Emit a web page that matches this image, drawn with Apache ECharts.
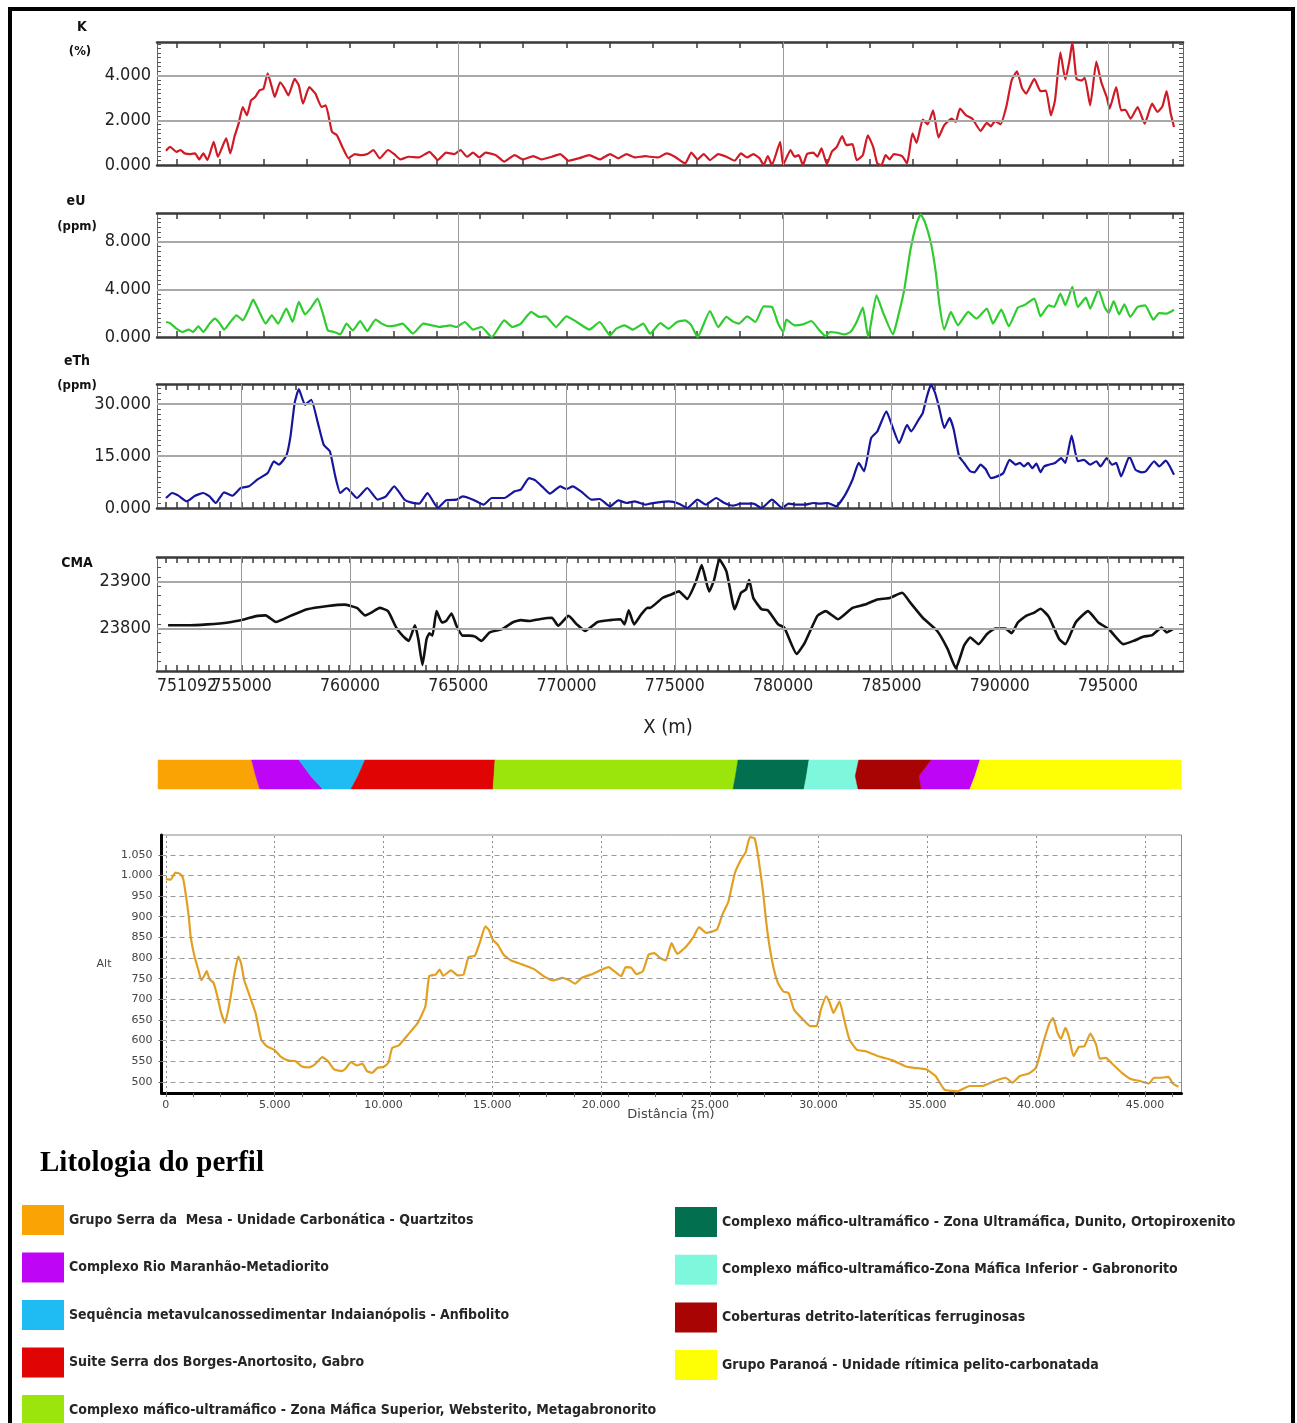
<!DOCTYPE html>
<html><head><meta charset="utf-8">
<script src="https://cdn.jsdelivr.net/npm/echarts@6/dist/echarts.min.js"></script>
<style>html,body{margin:0;padding:0;background:#fff}#c{width:1297px;height:1423px}</style>
</head><body><div id="c"></div>
<script>
// ---------------- DATA ----------------
const X_MIN = 751092, X_MAX = 798462;
const xLabelValues = [755000,760000,765000,770000,775000,780000,785000,790000,795000];
const xMinLabel = [751092];
const xGridCoarse = [765000,780000,795000];
const xGridFine = [755000,760000,765000,770000,775000,780000,785000,790000,795000];

const kLabels = [0,2,4];
const uLabels = [0,4,8];
const thLabels = [0,15,30];
const cmaLabels = [23800,23900];

const kData = [[751507,0.64],[751699,0.81],[751986,0.59],[752178,0.67],[752370,0.52],[752657,0.49],[752849,0.52],[753040,0.25],[753232,0.52],[753423,0.22],[753710,1.04],[753902,0.37],[754285,1.19],[754477,0.52],[754668,1.26],[754860,1.85],[755052,2.59],[755243,2.22],[755435,2.89],[755627,3.04],[755818,3.33],[756010,3.41],[756201,4.1],[756393,3.48],[756527,3.04],[756776,3.7],[756968,3.45],[757160,3.11],[757447,3.85],[757639,3.56],[757830,2.74],[758118,3.48],[758405,3.19],[758692,2.59],[758884,2.67],[759171,1.48],[759401,1.33],[759650,0.81],[759938,0.3],[760225,0.49],[760512,0.44],[760800,0.49],[761087,0.67],[761374,0.3],[761757,0.67],[762045,0.49],[762332,0.25],[762716,0.37],[763195,0.34],[763674,0.59],[764057,0.22],[764440,0.55],[764823,0.49],[765111,0.67],[765398,0.37],[765686,0.55],[765973,0.34],[766261,0.55],[766740,0.44],[767123,0.15],[767602,0.44],[767985,0.25],[768464,0.4],[768847,0.25],[769326,0.37],[769709,0.49],[770092,0.19],[770571,0.3],[771050,0.44],[771529,0.25],[772008,0.49],[772391,0.3],[772774,0.49],[773157,0.34],[773636,0.4],
[773854,0.37],[774236,0.34],[774617,0.52],[774999,0.37],[775476,0.07],[775762,0.55],[776048,0.25],[776334,0.49],[776621,0.22],[777002,0.49],[777384,0.37],[777765,0.19],[778052,0.52],[778338,0.34],[778624,0.49],[778910,0.3],[779101,0],[779292,0.4],[779483,0],[779864,1.04],[779998,0],[780341,0.67],[780532,0.37],[780723,0.44],[780914,0],[781105,0.49],[781391,0.55],[781582,0.37],[781772,0.74],[782020,0.04],[782249,0.59],[782478,0.81],[782726,1.29],[782917,0.89],[783203,0.93],[783394,0.22],[783680,0.44],[783909,1.33],[784157,0.81],[784348,0.07],[784539,0],[784730,0.44],[784920,0.25],[785111,0.49],[785493,0.4],[785722,0.07],[785970,1.41],[786161,0.99],[786447,2.03],[786676,1.82],[786924,2.44],[787172,1.23],[787439,1.78],[787782,2.07],[787973,1.93],[788164,2.52],[788450,2.22],[788736,2.07],[789118,1.53],[789404,1.88],[789595,1.73],[789786,1.97],[790034,1.82],[790301,2.59],[790549,3.78],[790797,4.19],[791026,3.45],[791217,3.19],[791598,3.85],[791885,3.3],[792133,3.33],[792362,2.22],[792552,2.89],[792800,5.04],[793029,3.82],[793220,4.67],[793354,5.5],[793545,3.85],[793793,3.78],[793927,3.9],[794175,2.67],[794461,4.62],[794690,3.7],[794938,3.04],[795072,2.52],[795377,3.48],[795605,2.44],[795796,2.47],[796044,2.07],[796368,2.59],[796693,1.85],[797036,2.74],[797284,2.37],[797513,2.62],[797704,3.3],[797895,2.3],[798047,1.7]];

const uData = [[751507,1.26],[751699,1.17],[751986,0.7],[752272,0.42],[752561,0.62],[752752,0.42],[753002,0.9],[753232,0.42],[753519,1.12],[753768,1.54],[753998,1.12],[754189,0.62],[754477,1.26],[754764,1.82],[755052,1.4],[755339,2.38],[755531,3.13],[755818,2.1],[756106,1.12],[756393,1.82],[756681,1.12],[757064,2.38],[757351,1.26],[757639,2.94],[757926,1.9],[758176,2.38],[758501,3.22],[758788,1.73],[758980,0.56],[759267,0.42],[759554,0.22],[759842,1.12],[760129,0.56],[760474,1.34],[760800,0.5],[761183,1.45],[761470,1.12],[761757,0.9],[762140,0.98],[762428,1.12],[762907,0.28],[763386,1.12],[763769,0.98],[764152,0.84],[764631,0.98],[764919,0.84],[765302,1.26],[765686,0.62],[766069,0.84],[766548,0],[767123,1.4],[767506,0.84],[767889,1.12],[768368,2.1],[768751,1.68],[769038,1.73],[769517,0.84],[769996,1.73],[770475,1.26],[771050,0.62],[771529,1.26],[772008,0.14],[772295,0.7],[772678,0.98],[773062,0.62],[773541,1.12],
[773854,0.28],[774331,1.17],[774713,0.7],[775094,1.26],[775476,1.4],[775762,0.98],[776048,0],[776621,2.18],[777002,0.84],[777384,1.68],[777670,1.31],[777956,1.12],[778338,1.73],[778719,1.26],[779101,2.57],[779483,2.52],[779769,1.12],[780003,0.42],[780150,1.45],[780532,0.98],[780914,1.06],[781296,1.34],[781677,0.56],[781963,0.06],[782154,0.42],[782536,0.34],[782822,0.22],[783108,0.42],[783394,1.26],[783680,2.46],[783927,0],[784310,3.5],[784634,1.96],[785073,0.22],[785302,1.68],[785588,3.92],[785874,7.27],[786161,9.51],[786352,10.29],[786543,9.65],[786829,7.83],[787057,5.31],[787210,2.8],[787439,0.62],[787744,2.1],[788069,0.98],[788546,2.1],[788927,1.54],[789404,2.38],[789690,1.12],[790072,2.29],[790416,0.9],[790835,2.46],[791121,2.66],[791598,3.22],[791885,1.73],[792266,2.66],[792514,2.52],[792800,3.64],[793029,2.66],[793354,4.2],[793602,2.52],[793981,3.3],[794175,2.38],[794557,3.97],[794842,2.52],[795033,2.01],[795262,3.02],[795510,1.9],[795758,2.74],[796026,1.68],[796368,2.52],[796712,2.66],[797093,1.45],[797360,2.01],[797704,1.96],[798047,2.29]];

const thData = [[751507,2.88],[751795,4.33],[752082,3.56],[752466,1.92],[752849,3.56],[753232,4.33],[753519,3.37],[753806,1.44],[754189,4.52],[754573,3.56],[754956,5.77],[755339,6.25],[755722,8.17],[756201,10.1],[756489,13.46],[756719,12.5],[757064,15.1],[757255,20.67],[757447,30.29],[757639,34.33],[757926,29.8],[758213,31.25],[758501,25],[758788,18.27],[759075,16.35],[759324,9.13],[759554,4.33],[759842,5.77],[760321,2.88],[760800,5.77],[761279,2.4],[761662,3.37],[762045,6.25],[762524,2.4],[762812,1.63],[763195,1.25],[763578,4.33],[764057,0],[764440,2.21],[764919,2.4],[765206,3.37],[765686,2.4],[766165,0.96],[766548,2.88],[767123,2.88],[767602,4.81],[767889,5.29],[768272,8.65],[768560,7.98],[768943,5.77],[769230,4.13],[769709,6.25],[769996,5.48],[770283,6.25],[770667,4.81],[771146,2.4],[771529,2.6],[772008,0.48],[772391,2.21],[772774,1.44],[773157,1.92],[773636,0.96],
[773854,1.25],[774236,1.63],[774713,1.92],[775190,1.25],[775571,0],[776048,2.4],[776430,0.96],[776907,2.88],[777289,1.44],[777670,0.67],[778052,1.25],[778624,1.25],[779006,0],[779483,2.4],[779960,0],[780246,1.25],[780627,0.96],[781010,0.96],[781391,1.44],[781677,1.25],[782058,1.44],[782440,0.48],[782822,3.37],[783203,8.17],[783490,13],[783738,10.6],[784062,20.2],[784348,22.1],[784768,27.9],[785016,24],[785359,18.75],[785722,24],[785912,22.1],[786256,25.5],[786447,27.4],[786638,32.2],[786829,35.6],[787019,33.2],[787210,28.8],[787439,23.1],[787687,26],[787878,22.6],[788126,14.9],[788355,13],[788641,10.6],[788832,10.3],[789118,12.5],[789347,11.25],[789595,8.65],[789882,9.13],[790168,10.1],[790454,13.9],[790740,12.5],[790931,13],[791121,12],[791312,13],[791503,11.5],[791694,12.8],[791885,10.3],[792045,12],[792266,12.5],[792552,13],[792838,14.4],[793029,13],[793320,20.9],[793602,13.5],[793888,13.9],[794175,12.5],[794461,13.5],[794651,12],[794938,14.4],[795186,12.5],[795377,13],[795605,9.13],[795987,14.9],[796273,11],[796560,10.3],[796750,10.6],[797131,13.5],[797360,12],[797665,13.65],[797856,12],[798047,9.6]];

const cmaData = [[751603,23807],[752465,23807],[753423,23809],[754381,23813],[755147,23820],[755722,23827],[756106,23828],[756585,23814],[757255,23827],[758022,23841],[758980,23848],[759746,23851],[760321,23844],[760704,23828],[760991,23834],[761374,23844],[761757,23837],[762140,23802],[762428,23785],[762715,23774],[763002,23807],[763156,23778],[763347,23723],[763539,23778],[763673,23790],[763807,23785],[763999,23837],[764248,23813],[764440,23816],[764689,23832],[764919,23806],[765206,23785],[765494,23785],[765781,23783],[766069,23774],[766452,23792],[767027,23799],[767506,23813],[767889,23818],[768272,23816],[768751,23820],[769326,23823],[769613,23806],[770092,23827],[770475,23809],[770858,23795],[771433,23814],[772008,23818],[772487,23820],[772678,23809],[772869,23839],[773119,23809],[773445,23830],[773732,23844],
[773854,23844],[774426,23865],[774808,23872],[775190,23879],[775571,23863],[775953,23897],[776239,23935],[776583,23879],[776811,23903],[777059,23947],[777384,23921],[777765,23841],[778052,23876],[778281,23883],[778433,23903],[778624,23865],[779006,23841],[779292,23839],[779769,23809],[780055,23802],[780628,23746],[781010,23771],[781582,23827],[781963,23837],[782536,23820],[783203,23844],[783776,23851],[784348,23862],[784920,23865],[785493,23876],[785874,23855],[786447,23823],[787115,23795],[787592,23757],[787974,23716],[788355,23764],[788641,23781],[789023,23767],[789404,23788],[789786,23800],[790263,23800],[790550,23790],[790836,23813],[791217,23827],[791598,23834],[791885,23842],[792266,23825],[792743,23778],[793029,23767],[793506,23813],[794078,23837],[794557,23813],[795033,23799],[795701,23767],[796178,23774],[796655,23783],[797036,23786],[797475,23802],[797704,23792],[797990,23799]];

// Altitude profile: [distance m, altitude m]
const altData = [[0,991],[228,990],[439,1007],[649,1004],[789,994],[930,949],[1052,901],[1140,852],[1315,804],[1491,772],[1631,746],[1754,756],[1877,768],[2017,748],[2193,740],[2368,707],[2543,667],[2719,643],[2929,691],[3157,764],[3333,804],[3455,788],[3596,748],[3859,707],[4122,667],[4385,602],[4648,586],[4999,577],[5262,562],[5613,552],[5964,550],[6227,538],[6578,535],[6841,542],[7191,560],[7454,550],[7718,531],[8069,526],[8244,531],[8507,548],[8770,540],[9033,544],[9244,526],[9472,522],[9735,534],[9998,536],[10226,546],[10401,582],[10700,588],[11138,615],[11577,643],[11928,683],[12103,756],[12401,760],[12577,772],[12752,757],[13103,770],[13419,758],[13682,760],[13910,802],[14208,806],[14471,844],[14681,877],[14857,867],[15032,844],[15260,832],[15523,808],[15874,794],[16400,784],[16926,773],[17365,756],[17803,746],[18242,752],[18540,746],[18803,738],[19119,752],[19646,762],[20049,772],[20347,778],[20610,768],[20926,756],[21136,778],[21399,776],[21627,761],[21925,768],[22189,808],[22452,812],[22715,800],[22978,794],[23241,836],[23504,810],[23847,824],[24259,852],[24506,875],[24835,861],[25329,869],[25576,905],[25856,937],[26153,1006],[26449,1040],[26647,1056],[26845,1093],[27059,1090],[27223,1046],[27437,965],[27635,869],[27882,788],[28129,740],[28376,719],[28623,715],[28870,675],[29282,651],[29612,635],[29908,635],[30106,675],[30353,707],[30518,691],[30682,667],[30962,695],[31176,651],[31423,602],[31753,578],[32164,574],[32741,562],[33400,552],[33976,538],[34388,534],[34964,530],[35376,514],[35788,481],[36365,477],[36941,490],[37517,490],[38094,502],[38588,510],[38917,498],[39247,514],[39659,520],[39988,534],[40318,594],[40614,643],[40779,655],[40976,619],[41141,604],[41339,631],[41503,610],[41717,562],[41964,585],[42211,586],[42491,617],[42755,590],[42919,556],[43199,558],[43529,542],[43941,522],[44352,507],[44764,502],[45176,496],[45423,510],[45752,510],[46082,512],[46280,496],[46543,488]];
const altXLabels = [0,5000,10000,15000,20000,25000,30000,35000,40000,45000];
const altYLabels = [500,550,600,650,700,750,800,850,900,950,1000,1050];

// Lithology strip
const lithNames = [
 'Grupo Serra da  Mesa - Unidade Carbonática - Quartzitos',
 'Complexo Rio Maranhão-Metadiorito',
 'Sequência metavulcanossedimentar Indaianópolis - Anfibolito',
 'Suite Serra dos Borges-Anortosito, Gabro',
 'Complexo máfico-ultramáfico - Zona Máfica Superior, Websterito, Metagabronorito',
 'Complexo máfico-ultramáfico - Zona Ultramáfica, Dunito, Ortopiroxenito',
 'Complexo máfico-ultramáfico-Zona Máfica Inferior - Gabronorito',
 'Coberturas detrito-lateríticas ferruginosas',
 'Grupo Paranoá - Unidade rítimica pelito-carbonatada'
];
const lithColors = ['#f9a404','#bf05f5','#1ebcf2','#e00404','#9be40c','#02704e','#7ef8dc','#a80404','#fefe04'];
// boundaries along the profile, X (m) at [top, middle, bottom] of the strip
const lithBounds = [[751140,751140,751140],[755460,755650,755834],[757648,758190,758738],[760695,760370,760049],[766697,766650,766605],[777917,777800,777686],[781195,781080,780964],[783490,783330,783458],[786828,786274,786366],[789090,788860,788628],[798370,798370,798370]];
const lithSequence = [0,1,2,3,4,5,6,7,1,8];

// ---------------- BUILD ----------------
const NARROW = '"Liberation Sans Narrow","Arial Narrow","DejaVu Sans Condensed",sans-serif';
const SANS = '"DejaVu Sans",Verdana,sans-serif';
const range = (a,b,s)=>{const r=[];for(let v=a;v<=b+1e-9;v+=s)r.push(+v.toFixed(6));return r;};
const dotFmt = v => String(Math.round(v)).replace(/\B(?=(\d{3})+(?!\d))/g,'.');
const xLabelStyle = {fontFamily:NARROW, fontSize:17.5, color:'#222', margin:6};

const panels = [
 {data:kData, color:'#cf1b25', top:42, height:123, min:0, max:5.5, labels:kLabels, minor:0.2, fmt:v=>v.toFixed(3), vgrid:xGridCoarse, xt:range(752000,798000,2000)},
 {data:uData, color:'#2ecc2e', top:213, height:124, min:0, max:10.4, labels:uLabels, minor:0.4, fmt:v=>v.toFixed(3), vgrid:xGridCoarse, xt:range(752000,798000,2000)},
 {data:thData, color:'#16169c', top:384, height:124, min:0, max:35.8, labels:thLabels, minor:1.5, fmt:v=>v.toFixed(3), vgrid:xGridFine, xt:range(751500,798000,500)},
 {data:cmaData, color:'#111111', top:557, height:114, min:23710, max:23952, labels:cmaLabels, minor:20, fmt:v=>String(v), vgrid:xGridFine, xt:range(751500,798000,500)}
];

const grid=[], xAxis=[], yAxis=[], series=[];
panels.forEach((p,i)=>{
  grid.push({left:157, right:114, top:p.top, height:p.height});
  const xb = {gridIndex:i, type:'value', min:X_MIN, max:X_MAX, splitLine:{show:false},
    axisLine:{show:true,onZero:false,lineStyle:{color:'#3a3a3a',width:2.5}},
    axisTick:{show:true,inside:true,length:6,customValues:p.xt,lineStyle:{color:'#3a3a3a',width:1.5}}};
  xAxis.push(Object.assign({}, xb, {position:'bottom',
    axisLabel: i===3 ? Object.assign({show:true, customValues:xLabelValues, formatter:v=>String(v)}, xLabelStyle) : {show:false}}));
  xAxis.push(Object.assign({}, xb, {position:'top', axisLabel:{show:false}}));
  const yt = range(p.min + p.minor, p.max - 0.001, p.minor).filter(v=>v<p.max);
  const yb = {gridIndex:i, type:'value', min:p.min, max:p.max, splitLine:{show:false},
    axisLine:{show:true,onZero:false,lineStyle:{color:'#666',width:1}},
    axisTick:{show:true,inside:true,length:4,customValues:yt,lineStyle:{color:'#555',width:1}}};
  yAxis.push(Object.assign({}, yb, {position:'left',
    axisLabel:{show:true, customValues:p.labels, showMinLabel:true, fontFamily:NARROW, fontSize:18, color:'#222', margin:6, formatter:p.fmt}}));
  yAxis.push(Object.assign({}, yb, {position:'right', axisLabel:{show:false}}));
  series.push({type:'line', xAxisIndex:2*i, yAxisIndex:2*i, data:[], silent:true, z:1,
    markLine:{silent:true, symbol:'none', animation:false, label:{show:false},
      lineStyle:{color:'#9a9a9a', width:1, type:'solid'},
      data: p.vgrid.map(v=>({xAxis:v})).concat(p.labels.filter(v=>v>p.min).map(v=>({yAxis:v, lineStyle:{color:'#a8a8a8', width:2, type:'solid'}})))}});
  series.push({type:'line', xAxisIndex:2*i, yAxisIndex:2*i, data:p.data, showSymbol:false, smooth:0.15,
    lineStyle:{color:p.color, width:i===3?2.6:2.2}, itemStyle:{color:p.color}, z:3, animation:false});
});

// lithology strip grid (index 4)
grid.push({left:157, right:114, top:760, height:29});
xAxis.push({gridIndex:4, type:'value', min:X_MIN, max:X_MAX, show:false});
yAxis.push({gridIndex:4, type:'value', min:0, max:1, show:false});
lithNames.forEach((name,k)=>{
  const segs = lithSequence.map((u,s)=>u===k?[s]:null).filter(Boolean);
  series.push({type:'custom', name, xAxisIndex:8, yAxisIndex:8, data:segs, itemStyle:{color:lithColors[k]}, animation:false, silent:true,
    renderItem:(params, api)=>{
      const s = api.value(0); const L = lithBounds[s], R = lithBounds[s+1];
      const pts = [api.coord([L[0],1]), api.coord([R[0],1]), api.coord([R[1],0.45]), api.coord([R[2],0]), api.coord([L[2],0]), api.coord([L[1],0.45])];
      return {type:'polygon', shape:{points:pts}, style:{fill:lithColors[k], stroke:lithColors[k], lineWidth:0.5}};
    }});
});

// altitude grid (index 5)
grid.push({left:161.5, right:115.5, top:835, height:258, show:true, borderColor:'#8a8a8a', borderWidth:1, backgroundColor:'#fff'});
xAxis.push({gridIndex:5, type:'value', min:-200, max:46680, position:'bottom', splitLine:{show:false},
  axisLine:{show:true,onZero:false,lineStyle:{color:'#000',width:3}},
  axisTick:{show:true,inside:false,length:4,customValues:range(0,46250,1250),lineStyle:{color:'#666'}},
  axisLabel:{show:true, customValues:altXLabels, formatter:dotFmt, fontFamily:SANS, fontSize:11, color:'#444', margin:7}});
yAxis.push({gridIndex:5, type:'value', min:473, max:1098, position:'left', splitLine:{show:false},
  axisLine:{show:true,onZero:false,lineStyle:{color:'#000',width:3}},
  axisTick:{show:true,inside:false,length:3,customValues:altYLabels,lineStyle:{color:'#666'}},
  axisLabel:{show:true, customValues:altYLabels, formatter:dotFmt, fontFamily:SANS, fontSize:11, color:'#444', margin:9}});
series.push({type:'line', xAxisIndex:9, yAxisIndex:9, data:[], silent:true, z:1,
  markLine:{silent:true, symbol:'none', animation:false, label:{show:false},
    data: altXLabels.map(v=>({xAxis:v, lineStyle:{color:'#8c8c8c', width:1, type:[2,3]}}))
      .concat(altYLabels.map(v=>({yAxis:v, lineStyle:{color:'#9a9a9a', width:1, type:[5,4]}})))}});
series.push({type:'line', xAxisIndex:9, yAxisIndex:9, data:altData, showSymbol:false, smooth:0.15,
  lineStyle:{color:'#e2a023', width:2.2}, z:3, animation:false});

// overlay grid (index 6) carrying only the profile's start label, drawn over the CMA axis
grid.push({left:157, right:114, top:557, height:114});
xAxis.push({gridIndex:6, type:'value', min:X_MIN, max:X_MAX, position:'bottom', splitLine:{show:false},
  axisLine:{show:false}, axisTick:{show:false},
  axisLabel:Object.assign({show:true, customValues:xMinLabel, showMinLabel:true, alignMinLabel:'left', formatter:v=>String(v)}, xLabelStyle)});
yAxis.push({gridIndex:6, type:'value', min:0, max:1, show:false});

const legendText = {fontFamily:NARROW, fontSize:14, fontWeight:'bold', color:'#262626'};
const option = {
  backgroundColor:'#ffffff',
  animation:false,
  grid, xAxis, yAxis, series,
  legend:[
    {orient:'vertical', left:22, top:1205, height:280, padding:0, itemWidth:42, itemHeight:30, itemGap:17.5, icon:'rect', selectedMode:false, data:lithNames.slice(0,5), textStyle:legendText},
    {orient:'vertical', left:675, top:1207, height:280, padding:0, itemWidth:42, itemHeight:30, itemGap:17.7, icon:'rect', selectedMode:false, data:lithNames.slice(5), textStyle:legendText}
  ],
  graphic:[
    {type:'rect', shape:{x:10,y:9,width:1283,height:1440}, style:{fill:'none', stroke:'#000', lineWidth:4}, z:100},
    {type:'text', x:82, y:27, style:{text:'K', font:'bold 14px '+NARROW, fill:'#111', align:'center', verticalAlign:'middle'}},
    {type:'text', x:80, y:52, style:{text:'(%)', font:'bold 13px '+NARROW, fill:'#111', align:'center', verticalAlign:'middle'}},
    {type:'text', x:76, y:201, style:{text:'eU', font:'bold 14px '+NARROW, fill:'#111', align:'center', verticalAlign:'middle'}},
    {type:'text', x:77, y:227, style:{text:'(ppm)', font:'bold 13px '+NARROW, fill:'#111', align:'center', verticalAlign:'middle'}},
    {type:'text', x:77, y:361, style:{text:'eTh', font:'bold 14px '+NARROW, fill:'#111', align:'center', verticalAlign:'middle'}},
    {type:'text', x:77, y:386, style:{text:'(ppm)', font:'bold 13px '+NARROW, fill:'#111', align:'center', verticalAlign:'middle'}},
    {type:'text', x:77, y:563, style:{text:'CMA', font:'bold 14px '+NARROW, fill:'#111', align:'center', verticalAlign:'middle'}},
    {type:'text', x:668, y:728, style:{text:'X (m)', font:'20px '+NARROW, fill:'#222', align:'center', verticalAlign:'middle'}},
    {type:'text', x:104, y:964, style:{text:'Alt', font:'11px '+SANS, fill:'#444', align:'center', verticalAlign:'middle'}},
    {type:'text', x:671, y:1115, style:{text:'Distância (m)', font:'13px '+SANS, fill:'#444', align:'center', verticalAlign:'middle'}},
    {type:'text', x:40, y:1164, style:{text:'Litologia do perfil', font:'bold 29px "Liberation Serif","Times New Roman",serif', fill:'#000', align:'left', verticalAlign:'middle'}}
  ]
};
const chart = echarts.init(document.getElementById('c'), null, {renderer:'canvas', width:1297, height:1423});
chart.setOption(option);
</script>
</body></html>
